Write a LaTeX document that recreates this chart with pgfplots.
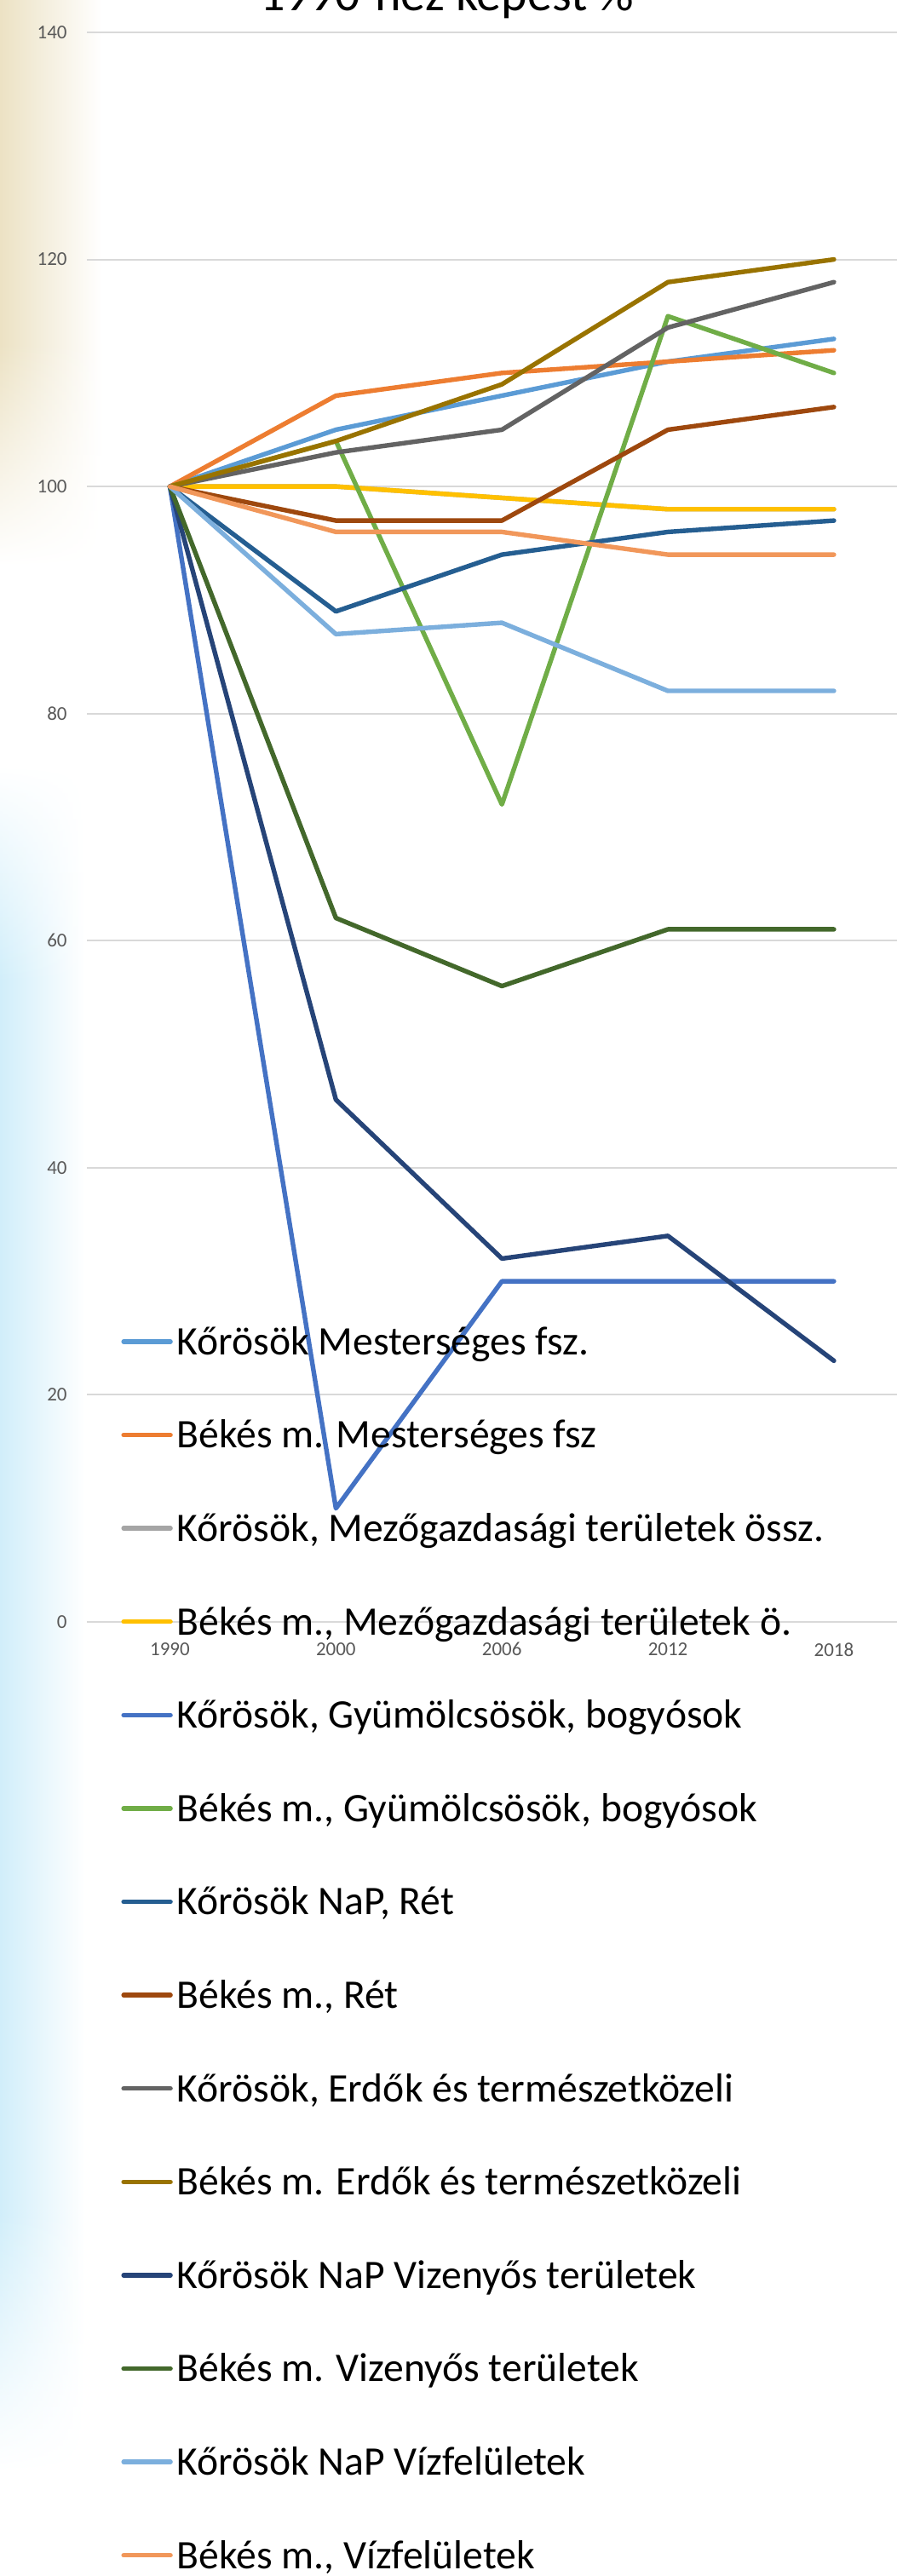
\documentclass[border=0pt]{standalone}
\usepackage{fontspec}
\setmainfont{Carlito}
\usepackage{pgfplots}
\pgfplotsset{compat=1.18}
\usetikzlibrary{fadings}
\tikzfading[name=myfadedown, top color=transparent!0, bottom color=transparent!100]
\tikzfading[name=myfadeup, top color=transparent!100, bottom color=transparent!0]
\definecolor{c1}{HTML}{5B9BD5}
\definecolor{c2}{HTML}{ED7D31}
\definecolor{c3}{HTML}{A5A5A5}
\definecolor{c4}{HTML}{FFC000}
\definecolor{c5}{HTML}{4472C4}
\definecolor{c6}{HTML}{70AD47}
\definecolor{c7}{HTML}{255E91}
\definecolor{c8}{HTML}{9E480E}
\definecolor{c9}{HTML}{636363}
\definecolor{c10}{HTML}{997300}
\definecolor{c11}{HTML}{264478}
\definecolor{c12}{HTML}{43682B}
\definecolor{c13}{HTML}{7CAFDD}
\definecolor{c14}{HTML}{F1975A}
\definecolor{gridC}{HTML}{D9D9D9}
\definecolor{tickC}{HTML}{595959}
\definecolor{beigeC}{HTML}{ECE2C4}
\definecolor{blueC}{HTML}{D1EEFA}
\begin{document}
\begin{tikzpicture}
\useasboundingbox (0,0) rectangle (526.5pt,1512pt);
% slide background decoration
\shade[left color=beigeC, right color=white] (0pt,1512pt) rectangle (60pt,1310pt);
\shade[left color=beigeC, right color=white, path fading=myfadedown] (0pt,1310pt) rectangle (60pt,1180pt);
\shade[left color=blueC, right color=white, path fading=myfadeup] (0pt,1062pt) rectangle (50pt,937pt);
\shade[left color=blueC, right color=white] (0pt,937pt) rectangle (50pt,212pt);
\shade[left color=blueC, right color=white, path fading=myfadedown] (0pt,212pt) rectangle (50pt,62pt);
\node[anchor=base, font=\fontsize{29}{35}\selectfont] at (262.25pt,1505.65pt) {1990-hez képest \%};
\begin{axis}[
  at={(51pt,560pt)}, anchor=south west,
  scale only axis, width=475.5pt, height=933pt,
  xmin=-0.5, xmax=4.38, ymin=0, ymax=140,
  xtick={0,1,2,3,4}, xticklabels={1990,2000,2006,2012,2018},
  ytick={0,20,...,140},
  ymajorgrids, grid style={draw=gridC, line width=1pt},
  axis line style={draw=none},
  major tick length=0pt,
  /pgf/number format/assume math mode=true,
  ticklabel style={font=\fontsize{11.5}{13}\selectfont, text=tickC, inner sep=0pt},
  yticklabel style={anchor=east, xshift=-11.5pt},
  xticklabel style={anchor=north, yshift=-12pt},
  every axis plot/.append style={line width=2.7pt, line join=round, line cap=round, mark=none},
  legend image code/.code={\draw[#1] (0pt,7.7pt) -- (27.5pt,7.7pt);},
  legend style={at={(axis description cs:0.0425,0.1863)}, anchor=north west,
    draw=none, fill=none, inner sep=0pt, outer sep=0pt, row sep=31.3pt,
    font=\fontsize{23.8}{28}\selectfont, cells={anchor=base west},
    nodes={inner sep=0pt, text height=17pt, text depth=6.5pt},
    /tikz/every odd column/.append style={column sep=2.5pt}},
]
\addplot[c1] coordinates {(0,100) (1,105) (2,108) (3,111) (4,113)};
\addlegendentry{Kőrösök Mesterséges fsz.}
\addplot[c2] coordinates {(0,100) (1,108) (2,110) (3,111) (4,112)};
\addlegendentry{Békés m. Mesterséges fsz}
\addplot[c3] coordinates {(0,100) (1,100) (2,99) (3,98) (4,98)};
\addlegendentry{Kőrösök, Mezőgazdasági területek össz.}
\addplot[c4] coordinates {(0,100) (1,100) (2,99) (3,98) (4,98)};
\addlegendentry{Békés m., Mezőgazdasági területek ö.}
\addplot[c5] coordinates {(0,100) (1,10) (2,30) (3,30) (4,30)};
\addlegendentry{Kőrösök, Gyümölcsösök, bogyósok}
\addplot[c6] coordinates {(0,100) (1,104) (2,72) (3,115) (4,110)};
\addlegendentry{Békés m., Gyümölcsösök, bogyósok}
\addplot[c7] coordinates {(0,100) (1,89) (2,94) (3,96) (4,97)};
\addlegendentry{Kőrösök NaP, Rét}
\addplot[c8] coordinates {(0,100) (1,97) (2,97) (3,105) (4,107)};
\addlegendentry{Békés m., Rét}
\addplot[c9] coordinates {(0,100) (1,103) (2,105) (3,114) (4,118)};
\addlegendentry{Kőrösök, Erdők és természetközeli}
\addplot[c10] coordinates {(0,100) (1,104) (2,109) (3,118) (4,120)};
\addlegendentry{Békés m. Erdők és természetközeli}
\addplot[c11] coordinates {(0,100) (1,46) (2,32) (3,34) (4,23)};
\addlegendentry{Kőrösök NaP Vizenyős területek}
\addplot[c12] coordinates {(0,100) (1,62) (2,56) (3,61) (4,61)};
\addlegendentry{Békés m. Vizenyős területek}
\addplot[c13] coordinates {(0,100) (1,87) (2,88) (3,82) (4,82)};
\addlegendentry{Kőrösök NaP Vízfelületek}
\addplot[c14] coordinates {(0,100) (1,96) (2,96) (3,94) (4,94)};
\addlegendentry{Békés m., Vízfelületek}
\end{axis}
\end{tikzpicture}
\end{document}
